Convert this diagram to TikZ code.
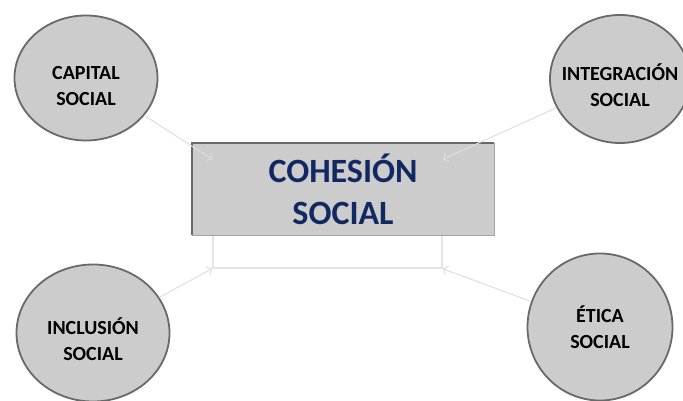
\documentclass[tikz,border=0pt]{standalone}
\usepackage{fontspec}
\setmainfont{Carlito}
\usetikzlibrary{shapes.geometric,arrows.meta}

\definecolor{azul}{RGB}{18,40,98}
\definecolor{gris}{RGB}{204,204,204}
\definecolor{borde}{RGB}{105,105,105}
\definecolor{flecha}{RGB}{222,222,222}

\tikzset{
  burbuja/.style={shape=ellipse,draw=borde,line width=1.8pt,fill=gris,inner sep=0pt},
  texto/.style={align=center,text=black,font=\fontsize{20}{26}\selectfont\bfseries},
  flechita/.style={-{Straight Barb[length=4pt,width=9pt]},draw=flecha,line width=1pt}
}

\begin{document}
\begin{tikzpicture}[x=1pt,y=-1pt]
			\clip (0,0) rectangle (683,401);
			\node[draw=flecha!80,line width=1.5pt,minimum width=229pt,minimum height=108pt] (marco) at (327.5,214) {};
			\node[shape=rectangle,fill=gris,draw=borde!60,minimum width=302pt,minimum height=92pt,align=center,text=azul,font=\fontsize{34}{42}\selectfont\bfseries] (cohesion) at (343,189) {COHESIÓN\\SOCIAL};
			\draw[borde,line width=2.5pt] (cohesion.south west) -- (cohesion.north west) -- (cohesion.north east);
		
			\node[burbuja,minimum width=143pt,minimum height=125pt,label={[texto,yshift=-8pt]center:CAPITAL\\SOCIAL}] (capital) at (86,78) {};
			\node[burbuja,minimum width=140pt,minimum height=128pt,label={[texto,yshift=-6pt]center:INTEGRACIÓN\\SOCIAL}] (integracion) at (620,79) {};
			\node[burbuja,minimum width=153pt,minimum height=137pt,label={[texto,yshift=-6pt]center:INCLUSIÓN\\SOCIAL}] (inclusion) at (93,333) {};
			\node[burbuja,minimum width=145pt,minimum height=147pt,label={[texto]center:ÉTICA\\SOCIAL}] (etica) at (600,327) {};
		
			\path [flechita] (capital) edge (marco.north west);
			\path [flechita] (integracion) edge (marco.north east);
			\path [flechita] (inclusion) edge (marco.south west);
			\path [flechita] (etica) edge (marco.south east);
		\end{tikzpicture}
\end{document}
